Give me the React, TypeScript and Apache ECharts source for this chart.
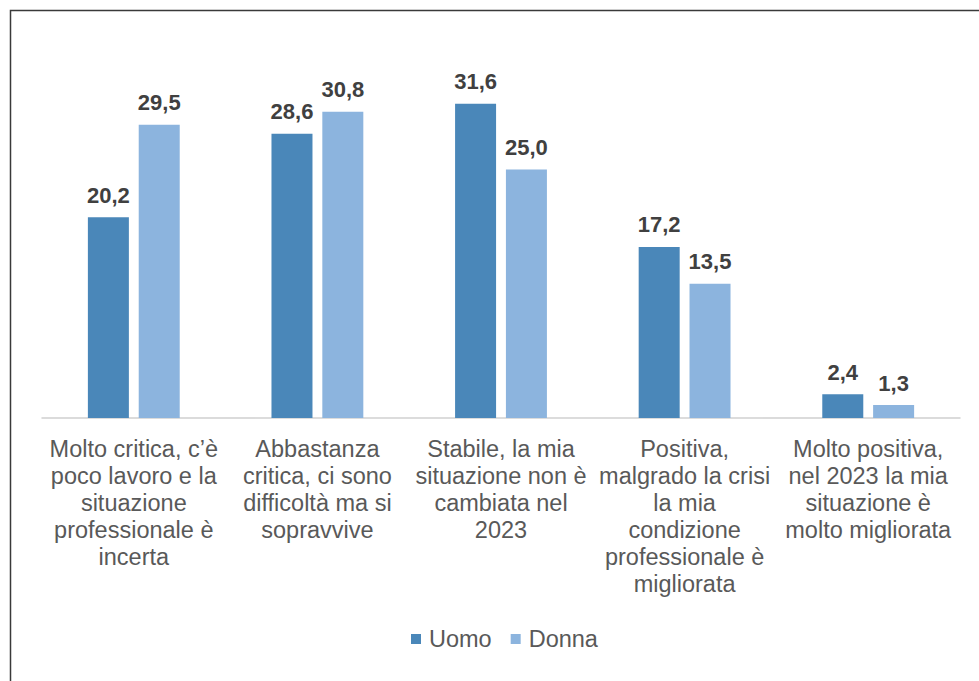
import React, { useEffect, useRef } from "react";
import * as echarts from "echarts";

const categories = [
  "Molto critica, c’è\npoco lavoro e la\nsituazione\nprofessionale è\nincerta",
  "Abbastanza\ncritica, ci sono\ndifficoltà ma si\nsopravvive",
  "Stabile, la mia\nsituazione non è\ncambiata nel\n2023",
  "Positiva,\nmalgrado la crisi\nla mia\ncondizione\nprofessionale è\nmigliorata",
  "Molto positiva,\nnel 2023 la mia\nsituazione è\nmolto migliorata",
];
const uomo = [20.2, 28.6, 31.6, 17.2, 2.4];
const donna = [29.5, 30.8, 25.0, 13.5, 1.3];
const seriesNames = ["Uomo", "Donna"];

const FONT = "'Liberation Sans', Arial, sans-serif";

export default function App() {
  const ref = useRef<HTMLDivElement>(null);
  useEffect(() => {
    if (!ref.current) return;
    const chart = echarts.init(ref.current, undefined, { renderer: "svg" });
    const label = {
      show: true,
      position: "top",
      distance: 11,
      fontSize: 22,
      fontWeight: "bold",
      color: "#404040",
      fontFamily: FONT,
      formatter: (p: any) => p.value.toFixed(1).replace(".", ","),
    };
    chart.setOption({
      animation: false,
      textStyle: { fontFamily: FONT },
      graphic: [
        {
          type: "rect",
          shape: { x: 10.5, y: 10.5, width: 1200, height: 1200 },
          style: { fill: "none", stroke: "#3a3a3a", lineWidth: 1.5 },
          silent: true,
        },
      ],
      grid: { left: 42, right: 19, top: 70, height: 348 },
      xAxis: {
        type: "category",
        data: categories,
        axisLine: { lineStyle: { color: "#d0d0d0", width: 1.5 } },
        axisTick: { show: false },
        axisLabel: {
          interval: 0,
          fontSize: 23.5,
          lineHeight: 27,
          color: "#595959",
          margin: 17,
          fontFamily: FONT,
        },
      },
      yAxis: {
        type: "value",
        min: 0,
        max: 35,
        show: false,
        splitLine: { show: false },
      },
      legend: {
        top: 622,
        left: 406,
        itemWidth: 10,
        itemHeight: 10,
        itemGap: 19,
        icon: "rect",
        textStyle: {
          fontSize: 23.5,
          color: "#595959",
          fontFamily: FONT,
          padding: [0, 0, 0, 3],
        },
        data: seriesNames,
      },
      series: [
        {
          name: seriesNames[0],
          type: "bar",
          data: uomo,
          barWidth: 41,
          barGap: "24%",
          itemStyle: { color: "#4A87B9" },
          label,
        },
        {
          name: seriesNames[1],
          type: "bar",
          data: donna,
          barWidth: 41,
          itemStyle: { color: "#8CB4DE" },
          label,
        },
      ],
    });
    return () => chart.dispose();
  }, []);
  return (
    <div
      ref={ref}
      style={{ position: "absolute", left: 0, top: 0, width: 979, height: 681, background: "#fff" }}
    />
  );
}
